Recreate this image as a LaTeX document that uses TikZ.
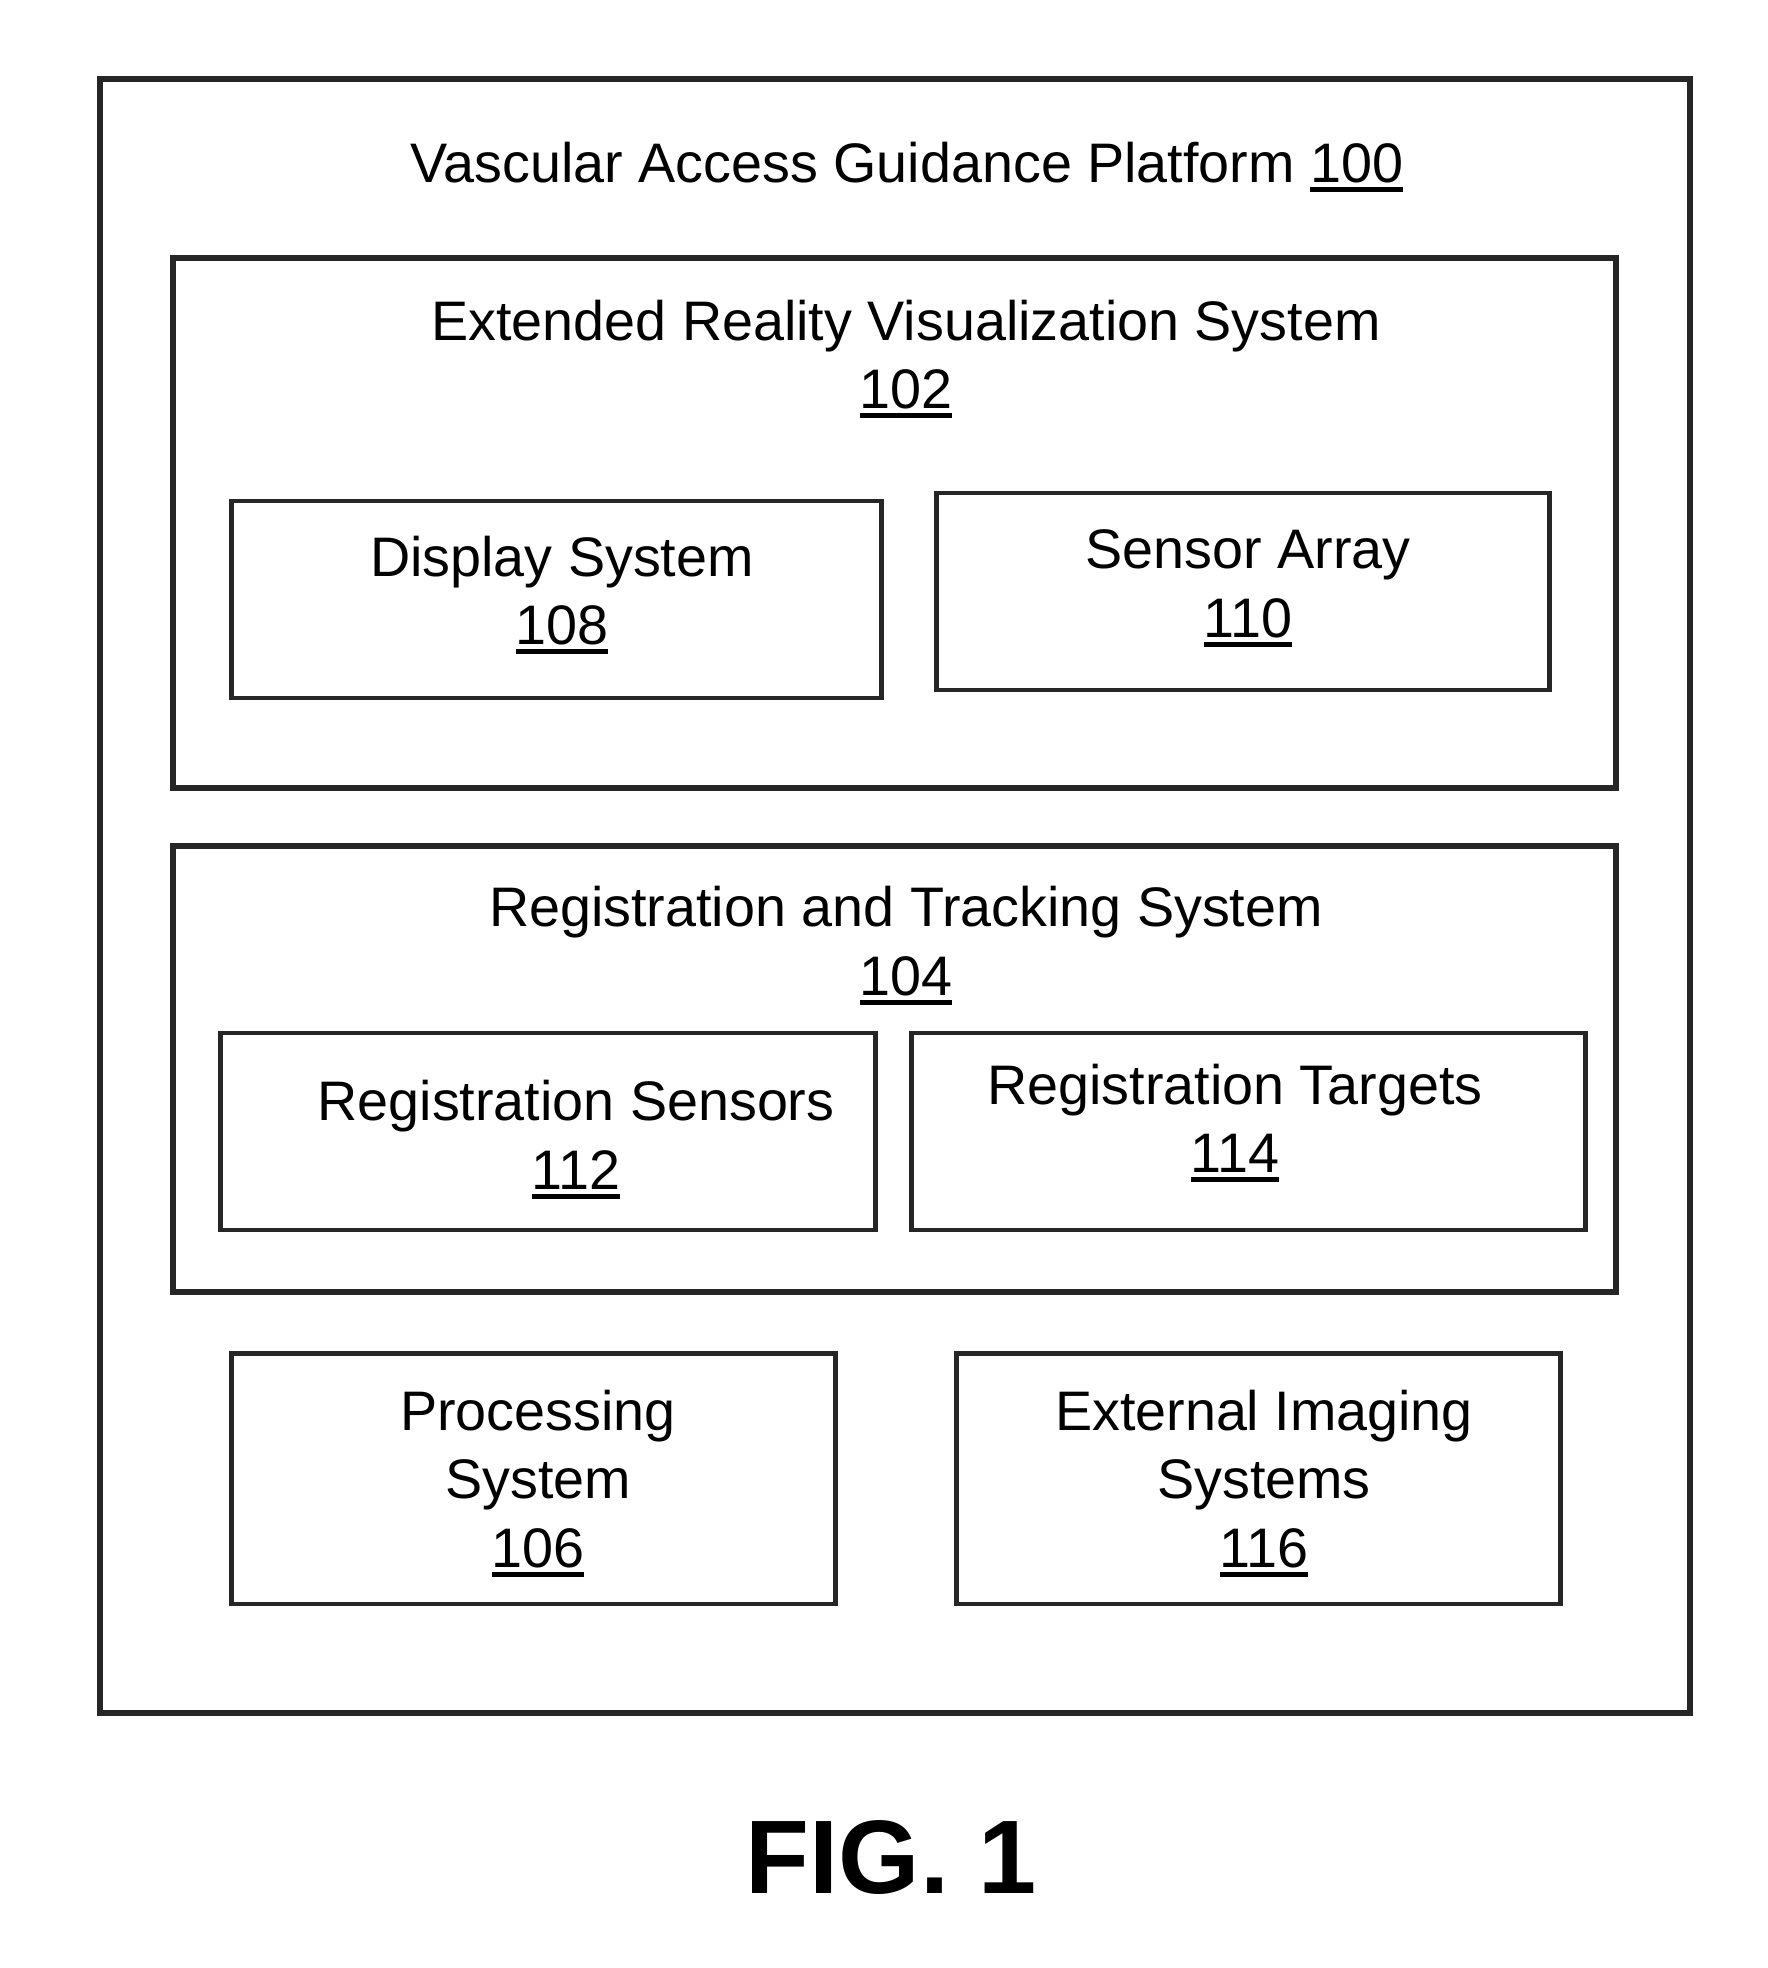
\documentclass[tikz,border=0pt]{standalone}
\usepackage{fontspec}
\setmainfont{Liberation Sans}
\newcommand\numul[1]{\setbox0\hbox{#1}\rlap{\rule[-0.18em]{\wd0}{0.09em}}\box0}
\tikzset{
  outerbox/.style={draw=black!85, line width=3.4pt, rectangle, inner sep=0pt},
  subbox/.style={draw=black!85, line width=2.8pt, rectangle, inner sep=0pt},
  lbl/.style={anchor=base, inner sep=0pt, font=\fontsize{31.7pt}{38pt}\selectfont},
}
\begin{document}
\begin{tikzpicture}[x=0.02cm, y=-0.02cm]
\useasboundingbox (0,0) rectangle (1768,1968);
% boxes
\node[outerbox, minimum width=31.8cm, minimum height=32.68cm] (platform) at (895,896) {};
\node[outerbox, minimum width=28.86cm, minimum height=10.6cm] (ervs) at (894.5,523) {};
\node[subbox, minimum width=13.02cm, minimum height=3.94cm] (display) at (556.5,599.5) {};
\node[subbox, minimum width=12.28cm, minimum height=3.94cm] (sensor) at (1243,591.5) {};
\node[outerbox, minimum width=28.86cm, minimum height=8.92cm] (rts) at (894.5,1069) {};
\node[subbox, minimum width=13.12cm, minimum height=3.94cm] (regsens) at (548,1131.5) {};
\node[subbox, minimum width=13.5cm, minimum height=3.94cm] (regtarg) at (1248.5,1131.5) {};
\node[subbox, minimum width=12.1cm, minimum height=5.02cm] (proc) at (533.5,1478.5) {};
\node[subbox, minimum width=12.1cm, minimum height=5.02cm] (ext) at (1258.5,1478.5) {};
% texts
\node[lbl] (t100) at (907,182) {Vascular Access Guidance Platform \numul{100}};
\node[lbl] (t102a) at (906,340) {Extended Reality Visualization System};
\node[lbl] (t102b) at (906,408) {\numul{102}};
\node[lbl] (t108a) at (562,576) {Display System};
\node[lbl] (t108b) at (562,644) {\numul{108}};
\node[lbl] (t110a) at (1248,568) {Sensor Array};
\node[lbl] (t110b) at (1248,637) {\numul{110}};
\node[lbl] (t104a) at (906,926) {Registration and Tracking System};
\node[lbl] (t104b) at (906,995) {\numul{104}};
\node[lbl] (t112a) at (576,1120) {Registration Sensors};
\node[lbl] (t112b) at (576,1189) {\numul{112}};
\node[lbl] (t114a) at (1235,1104) {Registration Targets};
\node[lbl] (t114b) at (1235,1172) {\numul{114}};
\node[lbl] (t106a) at (538,1430) {Processing};
\node[lbl] (t106b) at (538,1498) {System};
\node[lbl] (t106c) at (538,1567) {\numul{106}};
\node[lbl] (t116a) at (1264,1430) {External Imaging};
\node[lbl] (t116b) at (1264,1498) {Systems};
\node[lbl] (t116c) at (1264,1567) {\numul{116}};
\node[anchor=base, inner sep=0pt, font=\fontsize{59.5pt}{70pt}\selectfont\bfseries] (fig) at (891,1893) {FIG. 1};
\end{tikzpicture}
\end{document}
